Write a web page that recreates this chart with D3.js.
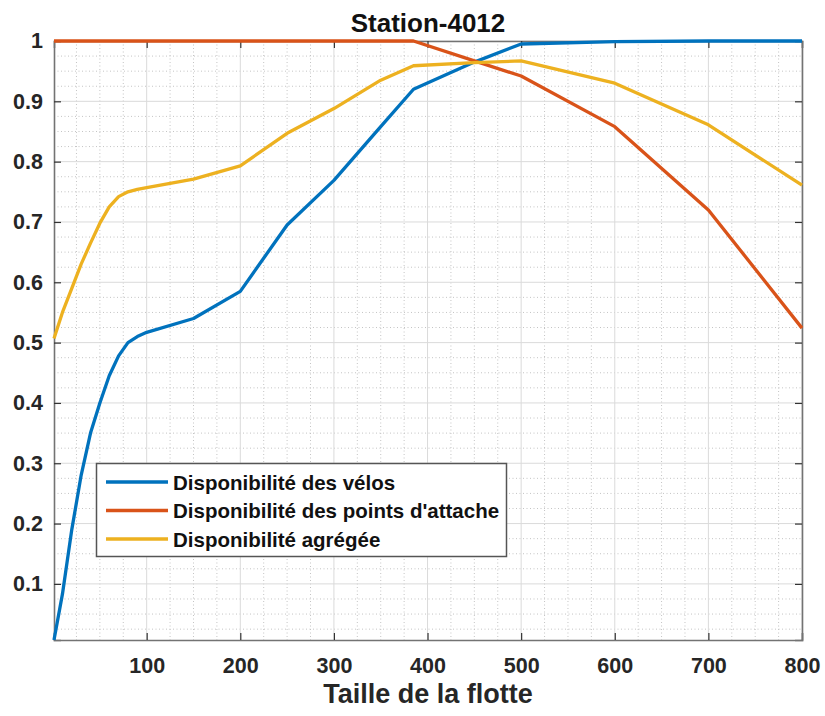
<!DOCTYPE html>
<html>
<head>
<meta charset="utf-8">
<script src="https://cdn.jsdelivr.net/npm/d3@7"></script>
<style>
  html, body { margin: 0; padding: 0; background: #fff; }
  svg { display: block; font-family: "Liberation Sans", Arial, Helvetica, sans-serif; }
</style>
</head>
<body>
<svg id="chart" width="825" height="716"></svg>
<script>
// ---- Data ----
const fleetSize = [1, 10, 20, 30, 40, 50, 60, 70, 80, 90, 100, 150, 200, 250, 300, 350, 385, 450, 500, 600, 700, 800];
const dispoVelos = [0.007, 0.083, 0.19, 0.28, 0.35, 0.40, 0.445, 0.478, 0.50, 0.51, 0.517, 0.540, 0.585, 0.695, 0.769, 0.858, 0.920, 0.965, 0.995, 0.999, 1.0, 1.0];
const dispoPoints = [1, 1, 1, 1, 1, 1, 1, 1, 1, 1, 1, 1, 1, 1, 1, 1, 1, 0.967, 0.942, 0.858, 0.720, 0.524];
const dispoAgregee = [0.507, 0.55, 0.59, 0.63, 0.665, 0.698, 0.725, 0.742, 0.75, 0.754, 0.757, 0.771, 0.793, 0.847, 0.888, 0.935, 0.959, 0.964, 0.967, 0.930, 0.861, 0.761];
const seriesNames = ["Disponibilité des vélos", "Disponibilité des points d'attache", "Disponibilité agrégée"];
const seriesColors = ["#0072BD", "#D95319", "#EDB120"];
const xTicks = [100, 200, 300, 400, 500, 600, 700, 800];
const yTicks = [0.1, 0.2, 0.3, 0.4, 0.5, 0.6, 0.7, 0.8, 0.9, 1];
const titleText = "Station-4012";
const xLabelText = "Taille de la flotte";

// ---- Layout ----
const svg = d3.select("#chart");
const L = 54, R = 802, T = 41, B = 640;
const x = d3.scaleLinear().domain([fleetSize[0], 800]).range([L, R]);
const y = d3.scaleLinear().domain([dispoVelos[0], 1]).range([B, T]);

const textColor = "#262626";
const axisColor = "#737373";

// minor grid
const xMinor = d3.range(25, 800, 25).filter(v => v % 100 !== 0);
const yMinor = d3.range(1, 40).map(i => +(i * 0.025).toFixed(3)).filter(v => Math.round(v * 1000) % 100 !== 0);
const g = svg.append("g");
g.selectAll(".xminor").data(xMinor).join("line")
  .attr("x1", d => x(d)).attr("x2", d => x(d)).attr("y1", T).attr("y2", B)
  .attr("stroke", "#c4c4c4").attr("stroke-width", 1).attr("stroke-dasharray", "1,2.5");
g.selectAll(".yminor").data(yMinor.filter(v => v > y.domain()[0])).join("line")
  .attr("x1", L).attr("x2", R).attr("y1", d => y(d)).attr("y2", d => y(d))
  .attr("stroke", "#c4c4c4").attr("stroke-width", 1).attr("stroke-dasharray", "1,2.5");
// major grid
g.selectAll(".xmajor").data(xTicks).join("line")
  .attr("x1", d => x(d)).attr("x2", d => x(d)).attr("y1", T).attr("y2", B)
  .attr("stroke", "#dadada").attr("stroke-width", 1);
g.selectAll(".ymajor").data(yTicks).join("line")
  .attr("x1", L).attr("x2", R).attr("y1", d => y(d)).attr("y2", d => y(d))
  .attr("stroke", "#dadada").attr("stroke-width", 1);

// axes with inward ticks
const yFmt = v => v === 1 ? "1" : v.toFixed(1);
const axL = svg.append("g").attr("transform", `translate(${L},0)`)
  .call(d3.axisLeft(y).tickValues(yTicks).tickSize(-7).tickPadding(11).tickFormat(yFmt));
const axB = svg.append("g").attr("transform", `translate(0,${B})`)
  .call(d3.axisBottom(x).tickValues(xTicks).tickSize(-7).tickPadding(18).tickFormat(d3.format("d")));
const axT = svg.append("g").attr("transform", `translate(0,${T})`)
  .call(d3.axisTop(x).tickValues(xTicks).tickSize(-7).tickFormat(""));
const axR = svg.append("g").attr("transform", `translate(${R},0)`)
  .call(d3.axisRight(y).tickValues(yTicks).tickSize(-7).tickFormat(""));
[axL, axB, axT, axR].forEach(a => {
  a.select(".domain").attr("stroke", axisColor).attr("stroke-width", 1.6);
  a.selectAll(".tick line").attr("stroke", "#333").attr("stroke-width", 1.2);
  a.selectAll(".tick text").attr("fill", textColor).attr("font-size", "21.5px").attr("font-weight", "bold")
    .attr("font-family", "'Liberation Sans', Arial, sans-serif");
});

// lines
const series = [dispoVelos, dispoPoints, dispoAgregee];
const line = d3.line().x((d, i) => x(fleetSize[i])).y(d => y(d));
series.forEach((s, k) => {
  svg.append("path").datum(s)
    .attr("d", line)
    .attr("fill", "none")
    .attr("stroke", seriesColors[k])
    .attr("stroke-width", 3.3)
    .attr("stroke-linejoin", "round");
});

// title & label
svg.append("text").attr("x", (L + R) / 2).attr("y", 32).attr("text-anchor", "middle")
  .attr("font-size", "26px").attr("font-weight", "bold").attr("fill", "#111").text(titleText);
svg.append("text").attr("x", (L + R) / 2).attr("y", 703).attr("text-anchor", "middle")
  .attr("font-size", "27px").attr("font-weight", "bold").attr("fill", textColor).text(xLabelText);

// legend
const lg = svg.append("g");
lg.append("rect").attr("x", 96.5).attr("y", 463.5).attr("width", 410).attr("height", 93)
  .attr("fill", "#fff").attr("stroke", "#555").attr("stroke-width", 1.5);
seriesNames.forEach((name, k) => {
  const cy = 482 + k * 28.5;
  lg.append("line").attr("x1", 106).attr("x2", 168).attr("y1", cy).attr("y2", cy)
    .attr("stroke", seriesColors[k]).attr("stroke-width", 3.3);
  lg.append("text").attr("x", 173).attr("y", cy + 7.5)
    .attr("font-size", "20.5px").attr("font-weight", "bold").attr("fill", "#111").text(name);
});
</script>
</body>
</html>
